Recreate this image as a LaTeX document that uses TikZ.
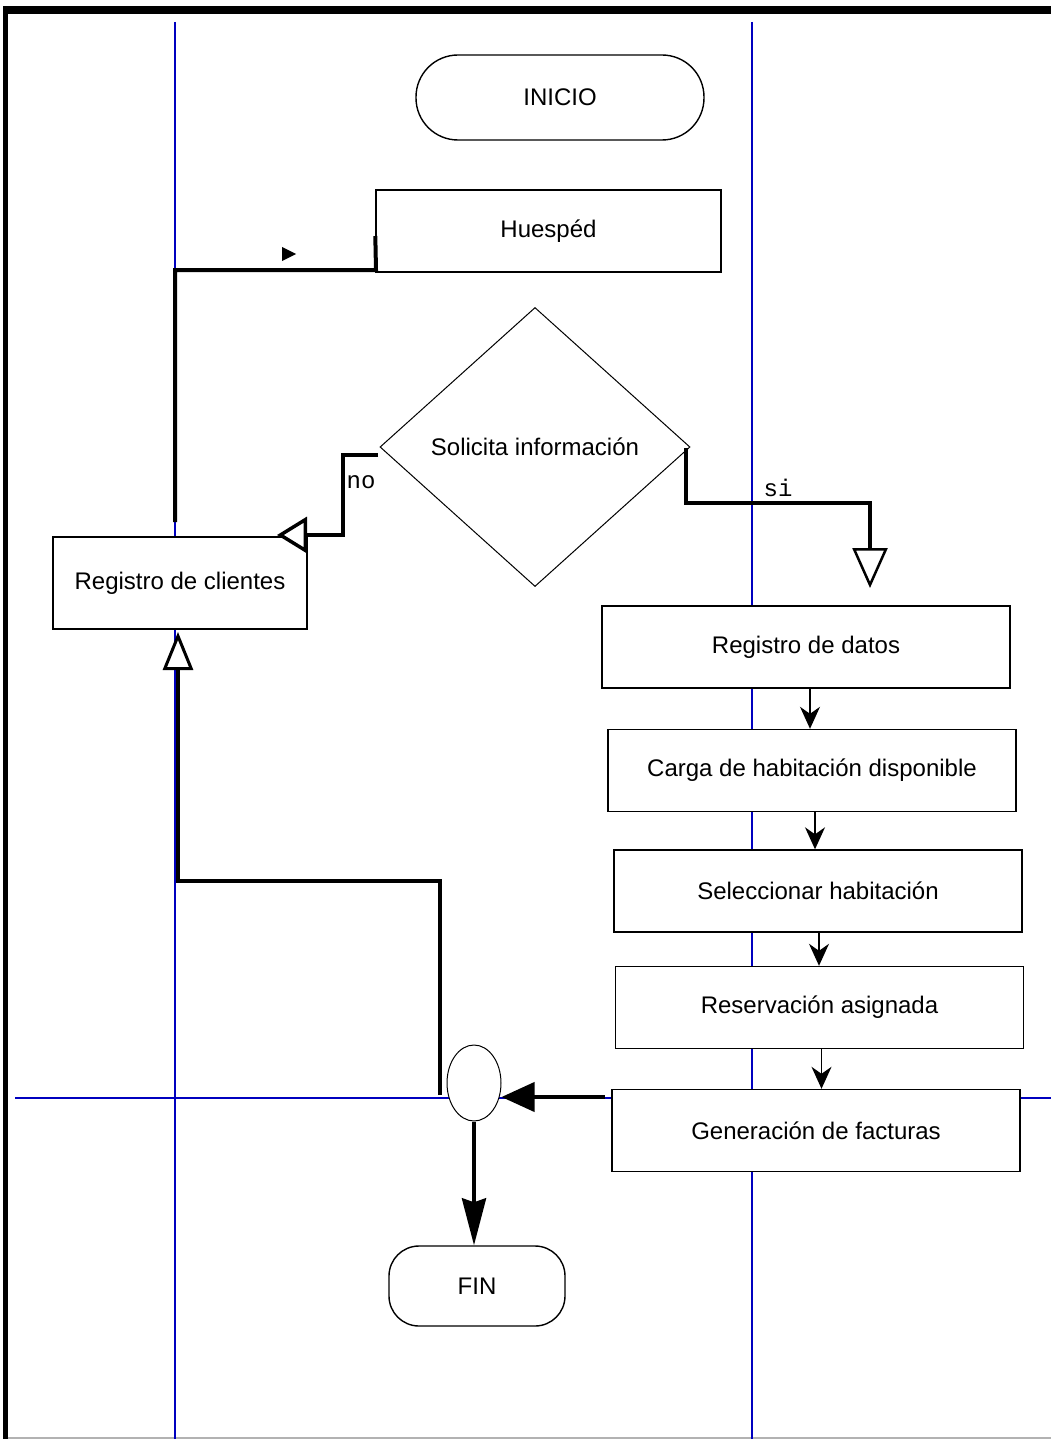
\documentclass[tikz,border=0pt]{standalone}
\usepackage{fontspec}
\setmainfont{Liberation Sans}
\newfontfamily\monofont{Liberation Mono}
\usetikzlibrary{arrows.meta, positioning, shapes.geometric, calc}
\tikzset{
    lane/.style = {draw=blue!75!black, line width=1.2pt},
    procbox/.style = {draw=black, fill=white, line width=1.4pt,
        minimum width=408pt, minimum height=82pt, inner sep=0pt,
        font=\fontsize{24}{26}\selectfont},
    terminal/.style = {procbox, rounded corners=40pt},
    decision/.style = {diamond, draw=black, fill=white, line width=1pt,
        inner sep=0pt, aspect=1.11, minimum width=310pt, minimum height=279pt,
        font=\fontsize{24}{26}\selectfont},
    joint/.style = {ellipse, draw=black, fill=white, line width=1pt,
        inner sep=0pt, minimum width=54pt, minimum height=76pt},
    flow/.style = {line width=4pt},
    link/.style = {line width=1.4pt, -{Stealth[length=22pt, width=20pt, inset=7pt]}},
    answer/.style = {font=\monofont\fontsize{24}{26}\selectfont},
}

\begin{document}
\begin{tikzpicture}[x=1pt, y=-1pt]
        \useasboundingbox (0,0) rectangle (1051,1439);
        % frame and swim lanes
        \fill[black] (3,6) rectangle (1051,14);
        \fill[black] (3,6) rectangle (8,1439);
        \draw[gray!60, line width=1.5pt] (8,1438) -- (1051,1438);
        \draw[lane] (175,22) -- (175,1439);
        \draw[lane] (752,22) -- (752,1439);
        \draw[lane] (15,1098) -- (1051,1098);

        \node [terminal, minimum width=288pt, minimum height=85pt, rounded corners=42pt] (inicio) at (560,97.5) {INICIO};
        \node [procbox, minimum width=345pt] (huesped) at (548.5,231) {Huespéd};
        \node [decision] (solicita) at (535,447) {Solicita información};
        \node [procbox, minimum width=254pt, minimum height=92pt] (clientes) at (180,583) {Registro de clientes};

        \node [procbox] (datos) at (806,647) {Registro de datos};
        \node [procbox] (carga) at (812,770.5) {Carga de habitación disponible};
        \node [procbox] (selec) at (818,891) {Seleccionar habitación};
        \node [procbox] (reserv) at (819.5,1007.5) {Reservación asignada};
        \node [procbox] (factura) at (816,1130.5) {Generación de facturas};

        \node [joint] (union) at (474,1083) {};
        \node [terminal, minimum width=176pt, minimum height=80pt, rounded corners=30pt] (fin) at (477,1286) {FIN};

        % free ends
        \coordinate (upend) at (175,522);
        \coordinate (siend) at (870,588);
        \coordinate (backstart) at (440,1095);

        % huesped -> registro de clientes
        \draw[flow] ([yshift=-5pt]huesped.west) -- (376,270) -- (175,270) -- (upend);
        \fill (282,247) -- (296,254) -- (282,261) -- cycle;

        % decision branches
        \draw[flow, -{Triangle[fill=white, length=30pt, width=36pt, line width=3.5pt]}]
            (378,455) -- (343,455) -- (343,535) -- (277,535);
        \node [answer] (no) at (361,482) {no};
        \draw[flow, -{Triangle[fill=white, length=40pt, width=35pt, line width=2.5pt]}]
            (686,448) -- (686,503) -| (siend);
        \node [answer] (si) at (778,488) {si};

        % process chain
        \draw[link] ([xshift=4pt]datos.south) -- ([xshift=4pt]datos.south |- carga.north);
        \draw[link] ([xshift=3pt]carga.south) -- ([xshift=3pt]carga.south |- selec.north);
        \draw[link] ([xshift=1pt]selec.south) -- ([xshift=1pt]selec.south |- reserv.north);
        \draw[link] ([xshift=2pt]reserv.south) -- ([xshift=2pt]reserv.south |- factura.north);

        % facturas -> union -> fin / back to clientes
        \draw[flow, -{Triangle[length=33pt, width=29pt]}] (605,1097) -- (union.east |- 605,1097);
        \draw[flow, -{Stealth[length=47pt, width=24pt, inset=4pt]}] (union.south) -- (union.south |- fin.north);
        \draw[flow, -{Triangle[fill=white, length=38pt, width=30pt, line width=3pt]}]
            (backstart) -- (440,881) -- (178,881) -- (178,632);
\end{tikzpicture}
\end{document}
